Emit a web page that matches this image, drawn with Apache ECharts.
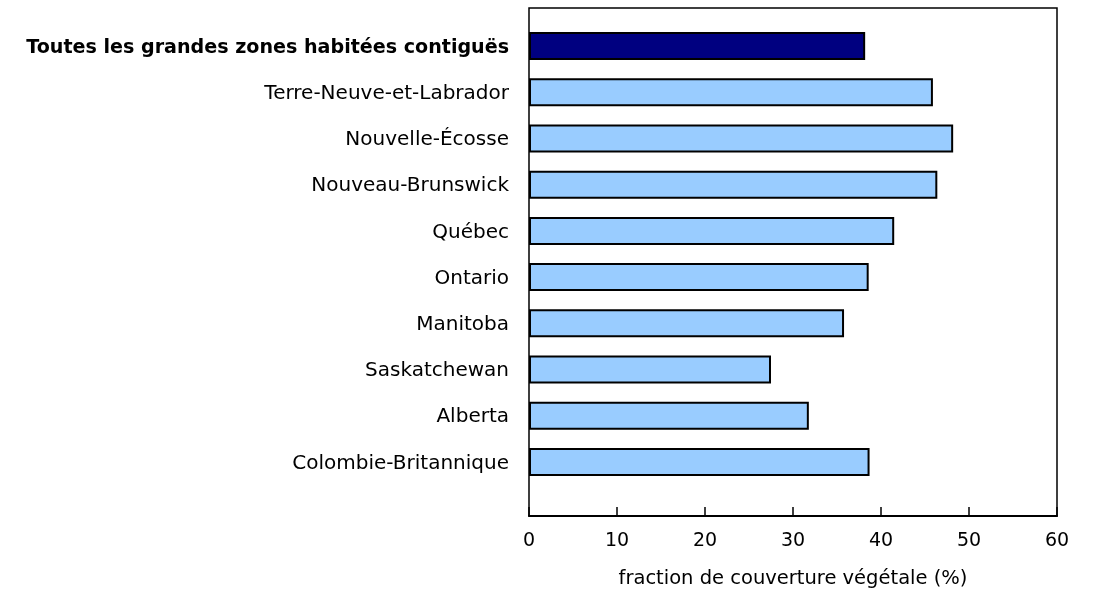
<!DOCTYPE html>
<html><head><meta charset="utf-8">
<script src="https://cdn.jsdelivr.net/npm/echarts@6/dist/echarts.min.js"></script>
<style>html,body{margin:0;padding:0;background:#fff}#c{width:1097px;height:597px}</style>
</head><body><div id="c"></div>
<script>
const categories = ["Toutes les grandes zones habitées contiguës","Terre-Neuve-et-Labrador","Nouvelle-Écosse","Nouveau-Brunswick","Québec","Ontario","Manitoba","Saskatchewan","Alberta","Colombie-Britannique"];
const values = [38.2, 45.9, 48.2, 46.4, 41.5, 38.6, 35.8, 27.5, 31.8, 38.7];
const xTicks = [0, 10, 20, 30, 40, 50, 60];
const xAxisName = "fraction de couverture végétale (%)";

const FONT = "DejaVu Sans";
const chart = echarts.init(document.getElementById('c'), null, {renderer: 'canvas'});
chart.setOption({
  animation: false,
  textStyle: {fontFamily: FONT},
  grid: [
    {left: 529, right: 40, top: 8, bottom: 81, show: true, borderColor: '#000', borderWidth: 1.5, backgroundColor: 'transparent'},
    {left: 529, right: 40, top: 23, bottom: 112}
  ],
  xAxis: [
    {type: 'value', gridIndex: 0, min: xTicks[0], max: xTicks[xTicks.length-1], interval: 10,
     axisLine: {show: true, lineStyle: {color: '#000', width: 2}},
     axisTick: {show: true, inside: true, length: 9, lineStyle: {color: '#000', width: 1.5}},
     axisLabel: {color: '#000', fontSize: 19, fontFamily: FONT, margin: 16},
     splitLine: {show: false},
     name: xAxisName, nameLocation: 'middle', nameGap: 53,
     nameTextStyle: {color: '#000', fontSize: 19.5, fontFamily: FONT}},
    {type: 'value', gridIndex: 1, min: 0, max: 60, show: false}
  ],
  yAxis: [
    {type: 'value', gridIndex: 0, show: false},
    {type: 'category', gridIndex: 1, data: categories, inverse: true,
     axisLine: {show: false}, axisTick: {show: false},
     axisLabel: {color: '#000', fontSize: 20, fontFamily: FONT, margin: 20,
       formatter: (v, i) => i === 0 ? '{b|' + v + '}' : '{n|' + v + '}',
       rich: {b: {fontWeight: 'bold', fontSize: 19.1, fontFamily: FONT, color: '#000', padding: [3, 0, 0, 0]},
              n: {fontSize: 20, fontFamily: FONT, color: '#000', padding: [3, 0, 0, 0]}}}}
  ],
  series: [{
    type: 'bar', xAxisIndex: 1, yAxisIndex: 1, barWidth: 28,
    data: values.map((v, i) => ({value: v, itemStyle: {color: i === 0 ? '#000080' : '#99ccff'}})),
    itemStyle: {borderColor: '#000', borderWidth: 2}
  }]
});
</script></body></html>
